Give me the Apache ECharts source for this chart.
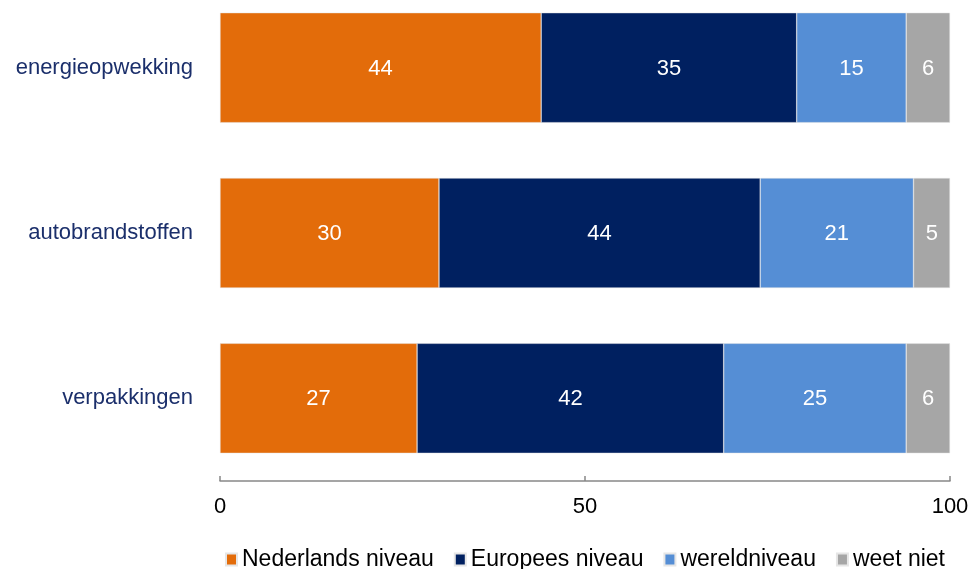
<!DOCTYPE html>
<html>
<head>
<meta charset="utf-8">
<script src="https://cdn.jsdelivr.net/npm/echarts@6/dist/echarts.min.js"></script>
<style>
    html, body { margin: 0; padding: 0; background: #fff; overflow: hidden; }
    /* shifted up so the first category band can start above the page edge */
    #chart { position: absolute; left: 0; top: -15px; width: 969px; height: 584px; }
</style>
</head>
<body>
<div id="chart"></div>
<script>
    var categories = ['energieopwekking', 'autobrandstoffen', 'verpakkingen'];
    var nederlands = [44, 30, 27];
    var europees = [35, 44, 42];
    var wereld = [15, 21, 25];
    var weetNiet = [6, 5, 6];
    var xTicks = [0, 50, 100];

    var font = 'Liberation Sans, Arial, sans-serif';

    function makeSeries(name, data, color) {
        return {
            name: name,
            type: 'bar',
            stack: 'total',
            barWidth: 110,
            data: data,
            itemStyle: {
                color: color,
                borderColor: '#e6e6e6',
                borderWidth: 0.5
            },
            label: {
                show: true,
                position: 'inside',
                color: '#ffffff',
                fontFamily: font,
                fontSize: 22,
                offset: [0, 1]
            }
        };
    }

    var myChart = echarts.init(document.getElementById('chart'));
    var option = {
        animation: false,
        grid: {
            left: 220,
            right: 19,
            top: 0,
            bottom: 88,
            containLabel: false,
            outerBoundsMode: 'none'
        },
        legend: {
            bottom: -7,
            left: 220,
            itemWidth: 11,
            itemHeight: 12,
            itemGap: 20,
            itemTextGap: 4,
            icon: 'rect',
            textStyle: {
                fontFamily: font,
                fontSize: 23,
                color: '#000'
            },
            data: ['Nederlands niveau', 'Europees niveau', 'wereldniveau', 'weet niet']
        },
        xAxis: {
            type: 'value',
            min: xTicks[0],
            max: xTicks[xTicks.length - 1],
            interval: 50,
            splitLine: { show: false },
            axisLine: { show: true, lineStyle: { color: '#888', width: 1.5 } },
            axisTick: { show: true, inside: true, length: 5, lineStyle: { color: '#888', width: 1.5 } },
            axisLabel: {
                fontFamily: font,
                fontSize: 22,
                color: '#000',
                margin: 15
            }
        },
        yAxis: {
            type: 'category',
            inverse: true,
            data: categories,
            axisLine: { show: false },
            axisTick: { show: false },
            axisLabel: {
                fontFamily: font,
                fontSize: 22,
                color: '#1b2f6b',
                margin: 27
            }
        },
        series: [
            makeSeries('Nederlands niveau', nederlands, '#e36c0a'),
            makeSeries('Europees niveau', europees, '#002060'),
            makeSeries('wereldniveau', wereld, '#558ed5'),
            makeSeries('weet niet', weetNiet, '#a6a6a6')
        ]
    };
    myChart.setOption(option);
</script>
</body>
</html>
